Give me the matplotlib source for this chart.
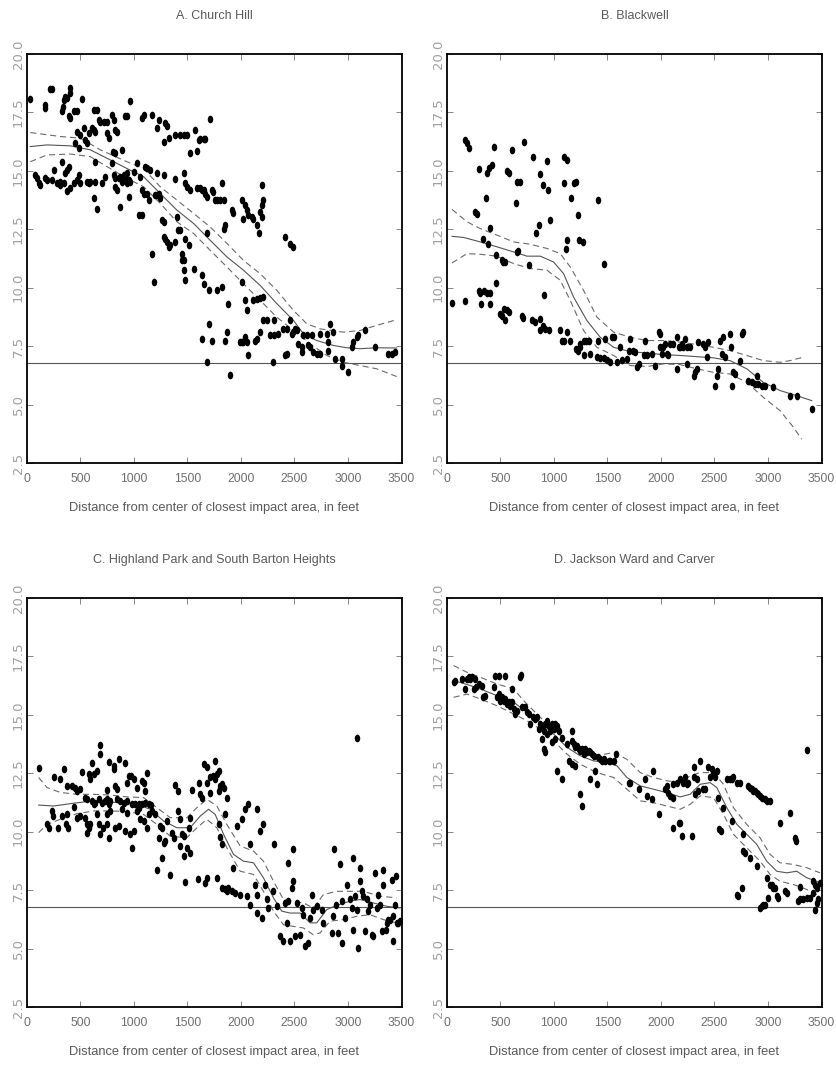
import numpy as np
import matplotlib
matplotlib.use("Agg")
import matplotlib.pyplot as plt
from matplotlib.path import Path
from matplotlib.transforms import Affine2D
from matplotlib import font_manager

# ---------------------------------------------------------------- data
titles = ["A. Church Hill", "B. Blackwell",
          "C. Highland Park and South Barton Heights", "D. Jackson Ward and Carver"]
x_label = "Distance from center of closest impact area, in feet"
x_ticks = [0, 500, 1000, 1500, 2000, 2500, 3000, 3500]
y_ticks = [2.5, 5.0, 7.5, 10.0, 12.5, 15.0, 17.5, 20.0]
reference_level = 6.8

church_pts = [
    (31, 18.08), (171, 17.83), (171, 17.68), (218, 18.50), (233, 18.51), (327, 17.54), (336, 17.75),
    (349, 18.04), (358, 18.18), (374, 18.11), (398, 18.54), (405, 18.33), (389, 17.33), (405, 17.25),
    (436, 17.54), (467, 17.58), (514, 18.07), (467, 16.68), (451, 16.18), (483, 15.97), (498, 16.54),
    (529, 16.82), (545, 16.32), (560, 16.18), (576, 16.61), (607, 16.82), (623, 16.75), (638, 16.68),
    (623, 17.61), (654, 17.61), (669, 17.18), (685, 17.11), (716, 17.11), (747, 17.11), (747, 16.61),
    (763, 16.39), (794, 17.40), (809, 17.18), (825, 16.75), (840, 16.68), (803, 15.82), (825, 15.75),
    (887, 15.89), (918, 17.33), (934, 17.33), (965, 17.97), (1074, 17.25), (1090, 17.40), (1167, 17.40),
    (1214, 16.82), (1230, 17.18), (1292, 17.04), (1307, 16.90), (1276, 16.25), (1323, 16.39),
    (1385, 16.54), (1432, 16.54), (1463, 16.54), (1494, 16.54), (1525, 15.78), (1572, 16.75),
    (1588, 15.87), (1603, 16.30), (1619, 16.35), (1650, 16.35), (1665, 16.35), (1712, 17.21),
    (78, 14.82), (93, 14.68), (109, 14.46), (125, 14.39), (171, 14.68), (187, 14.61), (233, 14.61),
    (249, 15.04), (280, 14.46), (311, 14.53), (327, 15.39), (311, 14.39), (342, 14.46), (358, 14.89),
    (374, 15.04), (389, 15.18), (374, 14.15), (405, 14.25), (436, 14.46), (467, 14.61), (483, 14.82),
    (498, 14.46), (560, 14.53), (576, 14.46), (591, 14.53), (623, 13.82), (638, 15.39), (638, 14.53),
    (654, 13.35), (700, 14.46), (732, 14.75), (794, 15.32), (809, 14.82), (825, 14.68), (825, 14.32),
    (840, 14.18), (856, 14.68), (872, 14.72), (887, 14.53), (903, 14.82), (918, 14.75), (934, 14.89),
    (949, 14.61), (949, 13.89), (872, 13.46), (934, 14.46), (965, 14.53), (996, 14.96), (1027, 15.32),
    (1043, 13.10), (1074, 13.10), (1058, 14.75), (1074, 14.18), (1090, 14.03), (1105, 15.18),
    (1121, 15.11), (1121, 14.03), (1136, 13.75), (1152, 15.04), (1167, 11.46), (1183, 10.24),
    (1198, 13.96), (1214, 13.96), (1214, 14.89), (1230, 14.03), (1245, 13.82), (1261, 12.89),
    (1276, 14.82), (1276, 12.82), (1276, 12.18), (1292, 12.10), (1307, 11.96), (1323, 11.75),
    (1339, 11.82), (1385, 14.64), (1385, 11.96), (1401, 13.03), (1416, 12.46), (1432, 12.46),
    (1448, 11.46), (1448, 11.17), (1463, 11.17), (1463, 10.75), (1479, 10.32), (1463, 14.89),
    (1479, 14.46), (1494, 14.32), (1479, 12.10), (1510, 11.82), (1525, 14.18), (1557, 10.82),
    (1588, 14.25), (1619, 14.25), (1634, 14.18), (1650, 14.18), (1665, 14.03), (1681, 12.32),
    (1681, 13.89), (1634, 10.53), (1650, 10.17), (1697, 9.89), (1728, 14.18), (1743, 14.10),
    (1759, 13.75), (1774, 13.75), (1806, 13.75), (1821, 14.46), (1837, 13.75), (1837, 12.53),
    (1852, 12.68), (1774, 9.89), (1821, 10.03), (1883, 9.32), (1914, 13.32), (1930, 13.18),
    (2008, 13.75), (2023, 12.96), (2039, 13.53), (2055, 13.32), (2070, 13.10), (2101, 13.03),
    (2117, 12.96), (2148, 12.68), (2164, 12.32), (2179, 13.25), (2195, 13.03), (2195, 13.53),
    (2210, 13.75), (2195, 14.39), (2008, 10.24), (2039, 9.46), (2055, 9.03), (2117, 9.46),
    (2148, 9.53), (2179, 9.57), (2210, 9.60), (2413, 12.18), (2459, 11.89), (2490, 11.75),
    (1634, 7.81), (1681, 6.81), (1697, 8.46), (1728, 7.74), (1852, 7.74), (1868, 8.10), (1899, 6.28),
    (1992, 7.67), (2008, 7.67), (2023, 7.67), (2039, 7.89), (2055, 7.67), (2070, 7.10), (2132, 7.74),
    (2148, 7.81), (2179, 8.10), (2210, 8.60), (2241, 8.60), (2272, 7.96), (2304, 7.96), (2304, 8.60),
    (2297, 6.81), (2350, 8.03), (2413, 7.10), (2428, 7.17), (2397, 8.24), (2428, 8.24), (2459, 8.60),
    (2475, 8.03), (2490, 8.10), (2506, 8.24), (2522, 8.17), (2537, 7.60), (2568, 7.24), (2568, 7.46),
    (2584, 7.96), (2615, 7.96), (2630, 7.53), (2646, 7.46), (2662, 7.96), (2677, 7.24), (2708, 7.17),
    (2739, 7.17), (2739, 8.03), (2802, 8.03), (2817, 7.67), (2817, 7.31), (2833, 8.46), (2864, 8.10),
    (2880, 6.96), (2942, 6.96), (2942, 6.67), (3004, 6.39), (3035, 7.46), (3051, 7.67), (3082, 7.89),
    (3097, 7.96), (3160, 8.17), (3253, 7.46), (3378, 7.17), (3409, 7.17), (3440, 7.24),
]
church_fit = [
    (31, 16.04), (187, 16.11), (405, 16.07), (591, 15.90), (778, 15.47), (934, 15.10), (1090, 14.75),
    (1245, 14.03), (1401, 13.32), (1557, 12.75), (1712, 12.03), (1868, 11.32), (2023, 10.75),
    (2179, 10.10), (2335, 9.32), (2490, 8.60), (2584, 8.03), (2708, 7.74), (2864, 7.53), (2988, 7.43),
    (3113, 7.39), (3269, 7.43), (3455, 7.42),
]
church_upper = [
    (31, 16.64), (311, 16.47), (498, 16.40), (685, 15.90), (934, 15.39), (1090, 15.10), (1245, 14.32),
    (1401, 13.75), (1557, 13.18), (1712, 12.60), (1868, 11.90), (2023, 11.17), (2179, 10.60),
    (2335, 9.89), (2490, 9.03), (2615, 8.46), (2739, 8.24), (2957, 8.10), (3113, 8.17), (3269, 8.39),
    (3455, 8.63),
]
church_lower = [
    (31, 15.39), (187, 15.68), (405, 15.72), (591, 15.61), (778, 15.10), (934, 14.68), (1090, 14.32),
    (1245, 13.61), (1401, 12.82), (1557, 12.32), (1712, 11.60), (1868, 10.89), (2023, 10.17),
    (2179, 9.46), (2335, 8.74), (2490, 8.17), (2646, 7.60), (2802, 7.10), (2957, 6.81), (3113, 6.67),
    (3269, 6.53), (3455, 6.20),
]

blackwell_pts = [
    (171, 16.30), (187, 16.18), (202, 15.97), (302, 15.08), (374, 14.89), (389, 15.11), (420, 15.25),
    (436, 16.04), (367, 13.82), (265, 13.25), (280, 13.15), (405, 12.57), (336, 12.10), (380, 11.86),
    (461, 11.42), (514, 11.20), (523, 11.10), (545, 11.10), (560, 14.99), (576, 14.89), (607, 15.89),
    (654, 14.54), (685, 14.54), (647, 13.61), (654, 11.53), (663, 11.57), (722, 16.25), (763, 10.99),
    (803, 15.61), (831, 12.32), (856, 12.68), (865, 14.86), (897, 14.39), (934, 15.44), (940, 14.18),
    (965, 12.89), (903, 9.67), (1096, 15.61), (1121, 15.46), (1096, 14.46), (1189, 14.49),
    (1205, 14.54), (1158, 13.85), (1223, 13.10), (1121, 12.06), (1111, 11.67), (1230, 12.06),
    (1270, 11.96), (1416, 13.75), (1463, 11.00),
    (47, 9.34), (171, 9.43), (296, 9.86), (311, 9.77), (342, 9.86), (374, 9.77), (405, 9.77),
    (321, 9.29), (398, 9.31), (461, 10.20), (498, 8.86), (514, 8.81), (545, 8.63), (529, 9.10),
    (560, 9.06), (576, 8.96), (700, 8.81), (710, 8.70), (794, 8.60), (825, 8.53), (865, 8.67),
    (872, 8.17), (897, 8.38), (912, 8.24), (949, 8.20), (1052, 8.17), (1074, 7.74), (1090, 7.71),
    (1121, 8.10), (1152, 7.71), (1208, 7.38), (1220, 7.31), (1239, 7.45), (1245, 7.60), (1276, 7.74),
    (1301, 7.71), (1323, 7.74), (1276, 7.10), (1339, 7.17), (1401, 7.03), (1416, 7.71), (1432, 7.00),
    (1463, 7.00), (1479, 7.81), (1494, 6.91), (1525, 6.81), (1541, 7.88), (1557, 7.91), (1588, 6.81),
    (1619, 7.45), (1634, 6.91), (1681, 6.96), (1697, 7.31), (1706, 7.81), (1743, 7.31), (1759, 7.24),
    (1774, 6.60), (1790, 6.74), (1837, 7.10), (1852, 7.74), (1868, 7.10), (1914, 7.17), (1946, 6.67),
    (1977, 8.10), (1992, 8.03), (1992, 7.45), (2008, 7.17), (2023, 7.45), (2039, 7.60), (2055, 7.17),
    (2070, 7.10), (2086, 7.60), (2117, 7.60), (2148, 6.53), (2148, 7.88), (2164, 7.45), (2179, 7.45),
    (2195, 7.60), (2226, 7.81), (2241, 6.74), (2210, 7.45), (2241, 7.45), (2272, 7.45), (2304, 6.24),
    (2319, 6.38), (2335, 6.53), (2350, 7.67), (2397, 7.60), (2413, 7.45), (2428, 7.03), (2444, 7.67),
    (2506, 5.81), (2522, 6.24), (2537, 6.53), (2553, 7.74), (2568, 7.17), (2584, 7.91), (2599, 7.03),
    (2646, 8.03), (2652, 7.45), (2662, 5.81), (2677, 6.38), (2693, 6.31), (2739, 6.88), (2755, 8.03),
    (2764, 8.10), (2817, 6.02), (2848, 5.95), (2880, 5.88), (2895, 6.24), (2911, 5.88), (2942, 5.81),
    (2973, 5.81), (3051, 5.74), (3206, 5.38), (3269, 5.38), (3409, 4.81),
]
blackwell_fit = [
    (47, 12.20), (156, 12.15), (311, 11.96), (467, 11.75), (623, 11.53), (747, 11.35), (872, 11.35),
    (996, 11.10), (1090, 10.60), (1183, 9.60), (1307, 8.60), (1432, 7.88), (1557, 7.45), (1712, 7.27),
    (1868, 7.20), (2023, 7.14), (2179, 7.10), (2335, 7.05), (2490, 7.00), (2646, 6.88), (2802, 6.53),
    (2957, 5.95), (3113, 5.60), (3269, 5.38), (3409, 5.17),
]
blackwell_upper = [
    (47, 13.35), (187, 12.82), (311, 12.53), (467, 12.25), (623, 11.96), (778, 11.86), (934, 11.68),
    (1058, 11.46), (1152, 10.89), (1276, 9.89), (1401, 8.74), (1557, 8.10), (1712, 7.88), (1868, 7.74),
    (2023, 7.74), (2179, 7.67), (2335, 7.57), (2490, 7.45), (2646, 7.31), (2802, 7.10), (2957, 6.88),
    (3113, 6.81), (3206, 6.88), (3331, 7.03),
]
blackwell_lower = [
    (47, 11.06), (187, 11.46), (311, 11.43), (467, 11.35), (623, 11.03), (778, 10.82), (934, 10.75),
    (1058, 10.32), (1152, 9.46), (1276, 8.17), (1401, 7.45), (1557, 7.10), (1712, 6.67), (1868, 6.63),
    (2023, 6.74), (2179, 6.71), (2335, 6.53), (2490, 6.38), (2646, 6.31), (2802, 5.95), (2957, 5.31),
    (3113, 4.74), (3238, 4.03), (3315, 3.52),
]

highland_pts = [
    (109, 12.72), (249, 12.32), (311, 12.25), (349, 12.68), (374, 11.96), (420, 11.96), (451, 11.89),
    (467, 11.75), (498, 11.82), (514, 12.57), (576, 12.46), (591, 12.25), (607, 12.93), (623, 12.46),
    (654, 12.60), (679, 13.32), (679, 13.71), (747, 11.79), (763, 13.00), (809, 12.68), (816, 12.82),
    (825, 11.96), (856, 13.10), (840, 11.82), (918, 12.96), (934, 12.10), (949, 12.39), (971, 12.39),
    (996, 12.25), (1027, 11.89), (1074, 12.17), (1090, 12.10), (1121, 12.53), (1105, 11.75),
    (545, 11.46), (560, 11.39), (607, 11.32), (638, 11.24), (669, 11.39), (700, 11.24), (732, 11.32),
    (747, 11.39), (763, 11.17), (778, 11.32), (840, 11.39), (872, 11.32), (903, 11.24), (934, 11.32),
    (981, 11.17), (1012, 11.17), (1043, 11.20), (1074, 11.17), (1105, 11.24), (1136, 11.17),
    (1158, 11.14), (187, 10.31), (202, 10.17), (233, 10.89), (243, 10.67), (286, 10.17), (327, 10.67),
    (367, 10.31), (380, 10.17), (374, 10.74), (436, 11.06), (467, 10.60), (498, 10.67), (545, 10.60),
    (560, 10.31), (576, 10.17), (560, 9.96), (591, 10.34), (623, 11.17), (654, 10.74), (669, 10.31),
    (679, 9.89), (710, 10.17), (747, 10.31), (763, 9.74), (747, 10.74), (778, 10.89), (825, 10.17),
    (856, 10.24), (887, 10.96), (918, 10.03), (934, 10.82), (965, 9.91), (981, 9.31), (996, 10.03),
    (1027, 10.89), (1043, 11.03), (1058, 10.53), (1090, 10.46), (1121, 10.17), (1136, 10.74),
    (1167, 10.89), (1198, 10.74), (1214, 8.38), (1230, 9.74), (1245, 10.24), (1261, 10.17),
    (1276, 9.53), (1292, 9.60), (1261, 8.89), (1307, 10.46), (1332, 8.14), (1354, 9.96), (1370, 9.74),
    (1385, 11.99), (1416, 11.75), (1416, 10.89), (1432, 10.53), (1432, 9.38), (1448, 9.89),
    (1463, 8.96), (1463, 9.81), (1479, 7.85), (1494, 9.31), (1510, 10.17), (1519, 9.10), (1525, 10.60),
    (1541, 11.77), (1594, 7.98), (1603, 12.10), (1619, 11.60), (1634, 11.46), (1650, 12.89),
    (1665, 7.81), (1681, 12.75), (1681, 12.10), (1687, 8.00), (1706, 11.67), (1712, 12.32),
    (1743, 12.39), (1753, 13.03), (1759, 12.25), (1774, 12.46), (1790, 12.60), (1790, 11.75),
    (1806, 11.96), (1821, 12.03), (1837, 11.89), (1852, 10.74), (1868, 11.46), (1790, 10.31),
    (1806, 9.77), (1821, 9.46), (1774, 8.00), (1821, 7.60), (1852, 7.57), (1868, 7.45), (1883, 7.60),
    (1914, 7.45), (1930, 8.46), (1946, 7.38), (1967, 10.24), (1992, 7.31), (2008, 10.53),
    (2039, 10.96), (2055, 7.24), (2070, 11.17), (2080, 6.88), (2086, 9.46), (2148, 10.96),
    (2132, 7.74), (2148, 7.31), (2148, 6.52), (2179, 10.03), (2195, 6.31), (2210, 10.31), (2226, 7.74),
    (2241, 7.10), (2257, 6.74), (2304, 9.46), (2297, 7.45), (2335, 6.81), (2366, 5.52), (2397, 5.31),
    (2413, 6.96), (2428, 6.10), (2444, 7.03), (2444, 8.67), (2459, 5.31), (2475, 7.60), (2490, 9.24),
    (2490, 7.88), (2506, 5.52), (2522, 6.96), (2553, 5.59), (2568, 6.74), (2584, 6.45), (2599, 5.09),
    (2630, 5.24), (2646, 6.31), (2662, 7.31), (2677, 6.67), (2708, 6.81), (2755, 6.67), (2771, 6.10),
    (2848, 5.67), (2864, 6.38), (2870, 9.24), (2889, 6.88), (2911, 5.67), (2926, 8.60), (2942, 5.24),
    (2942, 7.03), (2973, 6.31), (2988, 7.74), (3020, 7.10), (3035, 6.74), (3045, 8.88), (3051, 5.81),
    (3066, 7.24), (3082, 6.67), (3097, 5.02), (3113, 8.46), (3113, 7.88), (3129, 7.45), (3144, 7.24),
    (3160, 5.74), (3175, 7.10), (3191, 6.60), (3206, 6.88), (3222, 5.59), (3238, 5.52), (3253, 8.24),
    (3269, 6.74), (3284, 7.31), (3300, 6.88), (3315, 5.74), (3331, 8.38), (3331, 7.74), (3356, 5.81),
    (3362, 6.10), (3378, 6.24), (3393, 6.24), (3409, 7.95), (3424, 5.31), (3424, 6.38), (3440, 6.88),
    (3449, 8.10), (3455, 6.10), (3471, 6.10), (3487, 6.17), (3082, 14.03),
]
highland_fit = [
    (109, 11.14), (249, 11.10), (405, 11.20), (560, 11.29), (716, 11.29), (872, 11.24), (1027, 11.17),
    (1152, 10.96), (1276, 10.46), (1401, 10.17), (1525, 10.17), (1619, 10.67), (1697, 10.96),
    (1759, 10.74), (1837, 9.89), (1930, 9.03), (2023, 8.74), (2117, 8.67), (2210, 8.03), (2304, 7.17),
    (2381, 6.60), (2459, 6.52), (2553, 6.52), (2646, 6.10), (2708, 6.10), (2802, 6.67), (2895, 6.85),
    (3020, 7.03), (3113, 7.10), (3238, 6.95), (3362, 6.81), (3487, 6.74),
]
highland_upper = [
    (109, 12.32), (187, 11.89), (311, 11.68), (467, 11.60), (623, 11.60), (778, 11.57), (934, 11.49),
    (1090, 11.46), (1214, 11.03), (1339, 10.60), (1494, 10.60), (1588, 11.03), (1681, 11.39),
    (1774, 11.10), (1868, 10.31), (1992, 9.39), (2117, 9.17), (2210, 8.74), (2304, 7.88), (2397, 7.10),
    (2490, 7.03), (2584, 6.95), (2677, 6.74), (2771, 7.31), (2895, 7.45), (3020, 7.45), (3144, 7.45),
    (3300, 7.24), (3455, 7.17),
]
highland_lower = [
    (109, 9.96), (187, 10.31), (311, 10.53), (467, 10.77), (623, 10.89), (778, 10.89), (934, 10.86),
    (1090, 10.74), (1214, 10.31), (1339, 9.81), (1494, 9.74), (1588, 10.17), (1681, 10.53),
    (1774, 10.17), (1868, 9.31), (1992, 8.31), (2117, 8.17), (2210, 7.45), (2304, 6.60), (2397, 6.02),
    (2490, 5.95), (2584, 5.88), (2677, 5.59), (2739, 5.67), (2833, 6.17), (2957, 6.24), (3082, 6.38),
    (3206, 6.45), (3331, 6.24), (3455, 6.10),
]

jackson_pts = [
    (68, 16.40), (78, 16.47), (140, 16.54), (171, 16.11), (187, 16.54), (202, 16.61), (218, 16.54),
    (233, 16.61), (249, 16.11), (265, 16.54), (274, 16.18), (296, 16.32), (327, 16.25), (336, 15.75),
    (358, 15.82), (436, 16.18), (451, 16.68), (483, 16.68), (467, 15.75), (483, 15.89), (498, 15.61),
    (514, 15.75), (529, 15.61), (545, 16.68), (545, 15.68), (560, 15.46), (576, 15.54), (591, 15.39),
    (607, 16.11), (607, 15.54), (623, 15.25), (638, 15.04), (654, 15.18), (685, 16.64), (691, 16.72),
    (700, 15.32), (732, 15.32), (747, 15.11), (763, 15.04), (778, 14.61), (803, 14.89), (825, 14.82),
    (840, 14.89), (856, 14.39), (872, 14.61), (887, 14.53), (903, 14.32), (918, 14.61), (934, 14.75),
    (949, 14.53), (965, 14.32), (981, 14.61), (996, 14.39), (1012, 14.61), (1027, 14.53),
    (1043, 14.32), (934, 14.18), (887, 13.96), (903, 13.53), (918, 13.43), (981, 13.86), (1012, 13.96),
    (1027, 12.60), (1074, 12.25), (1074, 14.03), (1121, 13.75), (1167, 14.32), (1167, 13.89),
    (1183, 13.75), (1198, 13.61), (1214, 13.68), (1230, 13.53), (1245, 13.46), (1261, 13.53),
    (1276, 13.32), (1292, 13.53), (1307, 13.39), (1323, 13.46), (1339, 13.39), (1354, 13.32),
    (1370, 13.25), (1385, 12.60), (1401, 12.03), (1416, 13.18), (1432, 13.10), (1448, 13.03),
    (1463, 13.10), (1479, 13.03), (1510, 13.03), (1525, 13.03), (1557, 13.03), (1581, 13.32),
    (1136, 13.03), (1167, 12.89), (1198, 12.82), (1245, 11.60), (1261, 11.10), (1339, 12.25),
    (1697, 12.10), (1712, 12.10), (1790, 11.82), (1852, 12.25), (1868, 11.53), (1914, 11.39),
    (1930, 12.60), (1977, 10.74), (2039, 11.82), (2055, 11.96), (2070, 11.67), (2086, 11.53),
    (2111, 11.46), (2117, 12.03), (2117, 10.17), (2148, 12.10), (2164, 10.39), (2179, 10.39),
    (2179, 12.25), (2195, 9.81), (2210, 12.10), (2226, 12.32), (2241, 12.03), (2257, 12.10),
    (2288, 9.81), (2304, 12.75), (2304, 12.32), (2319, 11.60), (2335, 12.25), (2350, 11.75),
    (2366, 13.03), (2397, 11.82), (2413, 11.82), (2444, 12.75), (2459, 12.32), (2475, 12.68),
    (2490, 12.46), (2506, 12.32), (2522, 12.60), (2537, 11.46), (2546, 10.10), (2559, 10.03),
    (2584, 11.03), (2615, 12.25), (2646, 12.25), (2662, 12.25), (2662, 10.46), (2677, 12.32),
    (2708, 12.10), (2739, 12.10), (2771, 9.89), (2771, 9.17), (2786, 9.10), (2817, 11.96),
    (2833, 11.89), (2848, 11.82), (2833, 8.89), (2864, 11.75), (2880, 11.75), (2895, 11.67),
    (2895, 8.53), (2911, 11.60), (2926, 11.53), (2942, 11.46), (2973, 11.39), (2988, 11.32),
    (3020, 11.32), (3113, 10.39), (3206, 10.82), (3253, 9.74), (3262, 9.60), (3362, 13.49),
    (2708, 7.31), (2724, 7.24), (2755, 7.60), (2926, 6.74), (2942, 6.81), (2957, 6.88), (2973, 6.85),
    (3004, 7.17), (2988, 8.03), (3020, 7.74), (3035, 7.74), (3051, 7.60), (3066, 7.60), (3082, 7.24),
    (3097, 7.17), (3160, 7.45), (3175, 7.38), (3284, 7.03), (3300, 7.10), (3300, 7.63), (3331, 7.10),
    (3362, 7.17), (3393, 7.17), (3424, 7.38), (3424, 7.88), (3440, 7.74), (3440, 6.67), (3455, 6.95),
    (3471, 7.10), (3487, 7.81), (3455, 7.60),
]
jackson_fit = [
    (62, 16.47), (187, 16.30), (311, 16.11), (467, 15.82), (623, 15.54), (747, 15.11), (872, 14.68),
    (996, 14.18), (1121, 13.61), (1245, 13.25), (1370, 13.03), (1494, 12.96), (1588, 12.82),
    (1681, 12.32), (1806, 11.96), (1930, 11.82), (2055, 11.67), (2179, 11.49), (2272, 11.60),
    (2366, 12.03), (2459, 12.10), (2522, 11.89), (2615, 11.03), (2708, 10.32), (2802, 9.89),
    (2895, 9.46), (2988, 8.74), (3082, 8.31), (3175, 8.24), (3269, 8.31), (3362, 8.03), (3455, 7.88),
    (3487, 7.81),
]
jackson_upper = [
    (62, 17.11), (187, 16.82), (311, 16.61), (467, 16.32), (623, 16.11), (716, 15.61), (872, 14.89),
    (996, 14.39), (1121, 13.89), (1245, 13.53), (1401, 13.25), (1557, 13.39), (1681, 13.10),
    (1806, 12.53), (1930, 12.32), (2055, 12.18), (2179, 12.10), (2272, 12.39), (2366, 12.53),
    (2490, 12.53), (2584, 12.03), (2677, 11.03), (2802, 10.31), (2926, 9.74), (3020, 9.03),
    (3113, 8.67), (3238, 8.60), (3362, 8.46), (3487, 8.24),
]
jackson_lower = [
    (62, 15.75), (187, 15.89), (311, 15.68), (467, 15.39), (623, 15.04), (747, 14.75), (872, 14.39),
    (996, 13.89), (1121, 13.32), (1245, 12.89), (1401, 12.53), (1557, 12.32), (1681, 11.82),
    (1806, 11.32), (1930, 11.24), (2055, 11.10), (2179, 10.96), (2272, 11.17), (2366, 11.53),
    (2490, 11.46), (2584, 10.75), (2677, 9.89), (2802, 9.31), (2926, 8.74), (3020, 8.17), (3113, 7.88),
    (3238, 7.74), (3362, 7.53), (3487, 7.24),
]

panels = [
    (church_pts, church_fit, church_upper, church_lower),
    (blackwell_pts, blackwell_fit, blackwell_upper, blackwell_lower),
    (highland_pts, highland_fit, highland_upper, highland_lower),
    (jackson_pts, jackson_fit, jackson_upper, jackson_lower),
]

# ---------------------------------------------------------------- style
available = {f.name for f in font_manager.fontManager.ttflist}
if "Liberation Sans Narrow" in available:
    narrow_family = ["Liberation Sans Narrow", "DejaVu Sans"]
    title_size, label_size, tick_size = 10, 10.5, 10
elif "Liberation Sans" in available:
    narrow_family = ["Liberation Sans", "DejaVu Sans"]
    title_size, label_size, tick_size = 9, 9.3, 8.8
else:
    narrow_family = ["DejaVu Sans"]
    title_size, label_size, tick_size = 8.2, 8.4, 8.0

TEXT_GREY = "#5a5a5a"
TICK_GREY = "#707070"
YTICK_GREY = "#a0a0a0"

# tall ellipse marker for the data points
ellipse = Path.unit_circle().transformed(Affine2D().scale(0.72, 1.0))

W, H = 837, 1065
fig = plt.figure(figsize=(W / 100, H / 100), dpi=100)

ax_w, ax_h = 375, 409
lefts = [27, 447, 27, 447]
tops = [54, 54, 598, 598]

for i, (pts, fit, upper, lower) in enumerate(panels):
    l, t = lefts[i], tops[i]
    ax = fig.add_axes([l / W, 1 - (t + ax_h) / H, ax_w / W, ax_h / H])
    px, py = np.array(pts).T
    fx, fy = np.array(fit).T
    ux, uy = np.array(upper).T
    lx, ly = np.array(lower).T

    ax.axhline(reference_level, color="#555555", lw=0.8, zorder=1)
    ax.plot(ux, uy, color="#6a6a6a", lw=0.8, dashes=(5.5, 3.5), zorder=2)
    ax.plot(lx, ly, color="#6a6a6a", lw=0.8, dashes=(5.5, 3.5), zorder=2)
    ax.plot(fx, fy, color="#555555", lw=0.8, zorder=2)
    ax.plot(px, py, linestyle="none", marker=ellipse, markersize=5.5,
            color="black", markeredgewidth=0, zorder=3)

    ax.set_xlim(0, 3505)
    ax.set_ylim(2.5, 20.0)
    ax.set_xticks(x_ticks)
    ax.set_yticks(y_ticks)
    ax.set_xticklabels([str(v) for v in x_ticks], color=TICK_GREY,
                       fontsize=tick_size, family=narrow_family)
    ax.set_yticklabels([f"{v:.1f}" for v in y_ticks], rotation=90, va="center",
                       color=YTICK_GREY, fontsize=9.5, family="DejaVu Sans")
    ax.tick_params(axis="both", direction="in", length=4, width=0.7, color="#888888",
                   top=True, right=True)
    ax.tick_params(axis="x", pad=7)
    ax.tick_params(axis="y", pad=1.5)
    for s in ax.spines.values():
        s.set_linewidth(1.3)
        s.set_color("black")

    cx = (l + ax_w / 2) / W
    fig.text(cx, 1 - (t - 38) / H, titles[i], ha="center", va="center",
             color=TEXT_GREY, fontsize=title_size, family=narrow_family)
    fig.text(cx, 1 - (t + ax_h + 45) / H, x_label, ha="center", va="center",
             color=TEXT_GREY, fontsize=label_size, family=narrow_family)

fig.savefig("out.png", dpi=100)
